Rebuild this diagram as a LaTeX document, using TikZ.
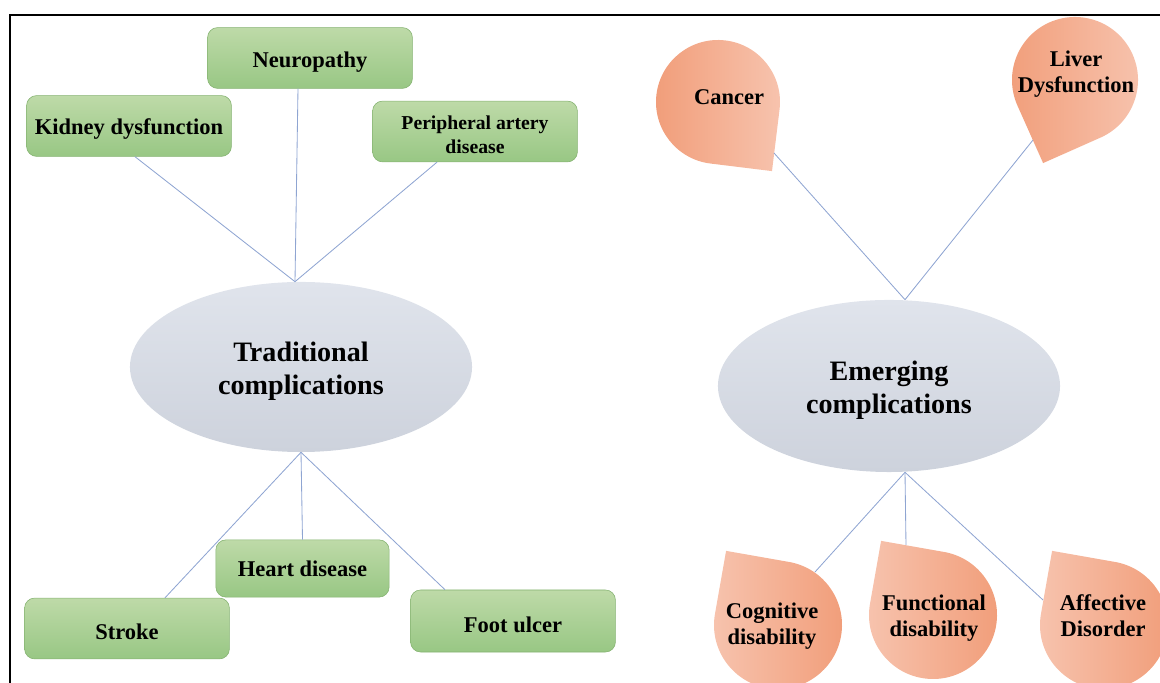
\documentclass[tikz,border=0pt]{standalone}
\usepackage{fontspec}
\setmainfont{Liberation Serif}
\usetikzlibrary{shapes.geometric}
\usetikzlibrary{calc}

\definecolor{boxtop}{RGB}{190,218,168}
\definecolor{boxbot}{RGB}{152,199,132}
\definecolor{boxline}{RGB}{132,178,112}
\definecolor{ovaltop}{RGB}{224,228,236}
\definecolor{ovalbot}{RGB}{205,210,220}
\definecolor{dropdark}{RGB}{241,157,121}
\definecolor{droplight}{RGB}{247,196,175}
\definecolor{linkc}{RGB}{143,165,210}

\begin{document}
\begin{tikzpicture}[x=0.025cm,y=0.025cm,
  sink/.style={execute at begin node={\rule{0pt}{#1}}},
  box/.style={draw=boxline,line width=0.4pt,top color=boxtop,bottom color=boxbot,rounded corners=0.25cm,minimum width=5.12cm,minimum height=1.52cm,inner sep=0pt,align=center,font=\fontsize{16}{18.5}\selectfont\bfseries},
  oval/.style={ellipse,top color=ovaltop,bottom color=ovalbot,minimum width=8.55cm,minimum height=4.25cm,inner sep=0pt,align=center,font=\fontsize{20}{23.5}\selectfont\bfseries,sink=43.5pt},
  droptext/.style={align=center,font=\fontsize{16}{18.5}\selectfont\bfseries},
  spoke/.style={draw=linkc,line width=0.6pt}]
\useasboundingbox (0,0) rectangle (1160,683);
\clip (0,0) rectangle (1160,683);
\draw[line width=1.4pt] (10,0) -- (10,668) -- (1160,668);

% traditional
\node[oval] (trad) at (301,316) {Traditional\\complications};
\node[box,sink=16.5pt] (neuro) at (310,625) {Neuropathy};
\node[box,sink=16pt] (kidney) at (129,557) {Kidney dysfunction};
\node[box,font=\fontsize{14}{17}\selectfont\bfseries,sink=31pt] (periph) at (475,551.5) {Peripheral artery\\disease};
\node[box,minimum width=4.33cm,minimum height=1.43cm] (heart) at (302.5,114.5) {Heart disease};
\node[box,sink=16pt] (stroke) at (127,54.5) {Stroke};
\node[box,minimum height=1.55cm,sink=16pt] (foot) at (513,62) {Foot ulcer};
\draw[spoke] ([xshift=-0.15cm]trad.north) -- ([xshift=0.15cm]kidney.south);
\draw[spoke] ([xshift=-0.15cm]trad.north) -- ([xshift=-0.3cm]neuro.south);
\draw[spoke] ([xshift=-0.15cm]trad.north) -- ([xshift=-0.95cm]periph.south);
\draw[spoke] (trad.south) -- ([xshift=0.95cm]stroke.north);
\draw[spoke] (trad.south) -- (heart.north);
\draw[spoke] (trad.south) -- ([xshift=-1.7cm]foot.north);

% emerging
\node[oval,minimum height=4.3cm] (emerg) at (889,297) {Emerging\\complications};
\shade[left color=dropdark,right color=droplight] ($(718,581)+(-7:62)$) arc[start angle=-7,end angle=263,radius=62] -- ($(718,581)+(-52:87.7)$) -- cycle;
\shade[left color=dropdark,right color=droplight] ($(1075,603)+(294:63)$) arc[start angle=294,end angle=564,radius=63] -- ($(1075,603)+(249:89)$) -- cycle;
\shade[left color=droplight,right color=dropdark] ($(778,58)+(170:64)$) arc[start angle=170,end angle=440,radius=64] -- ($(778,58)+(125:90.5)$) -- cycle;
\shade[left color=droplight,right color=dropdark] ($(933,68)+(170:64)$) arc[start angle=170,end angle=440,radius=64] -- ($(933,68)+(125:90.5)$) -- cycle;
\shade[left color=droplight,right color=dropdark] ($(1104,58)+(170:64)$) arc[start angle=170,end angle=440,radius=64] -- ($(1104,58)+(125:90.5)$) -- cycle;
\node[droptext] (cancer) at (729,586) {Cancer};
\node[droptext] (liver) at (1076,609) {Liver\\Dysfunction};
\node[droptext] (cognitive) at (772,57) {Cognitive\\disability};
\node[droptext] (functional) at (934,65) {Functional\\disability};
\node[droptext] (affective) at (1103,67) {Affective\\Disorder};
\coordinate (cancer-end) at (774,530);
\coordinate (liver-end) at (1033,543);
\coordinate (cognitive-end) at (815,111);
\coordinate (functional-end) at (906,138);
\coordinate (affective-end) at (1043,83);
\draw[spoke] ([xshift=0.4cm]emerg.north) -- (cancer-end);
\draw[spoke] ([xshift=0.4cm]emerg.north) -- (liver-end);
\draw[spoke] ([xshift=0.4cm]emerg.south) -- (cognitive-end);
\draw[spoke] ([xshift=0.4cm]emerg.south) -- (functional-end);
\draw[spoke] ([xshift=0.4cm]emerg.south) -- (affective-end);
\end{tikzpicture}
\end{document}
